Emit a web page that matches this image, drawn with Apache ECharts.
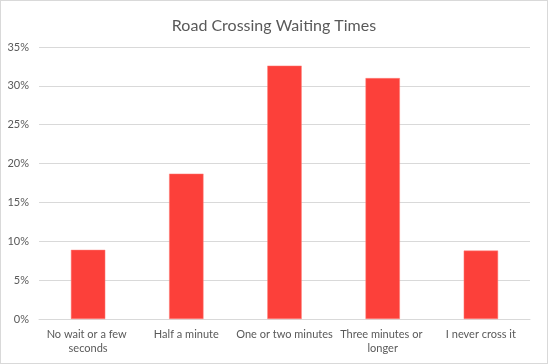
<!DOCTYPE html>
<html><head><meta charset="utf-8">
<script src="https://cdn.jsdelivr.net/npm/echarts@6/dist/echarts.min.js"></script>
<style>html,body{margin:0;padding:0;background:#fff}#c{width:548px;height:364px;box-sizing:border-box;border:1px solid #d9d9d9}</style>
</head><body><div id="c"></div>
<script>
const categories = ["No wait or a few seconds", "Half a minute", "One or two minutes", "Three minutes or longer", "I never cross it"];
const values = [8.9, 18.7, 32.6, 31.0, 8.8];
const yTicks = [0, 5, 10, 15, 20, 25, 30, 35];
const chart = echarts.init(document.getElementById('c'));
chart.setOption({
  animation: false,
  title: { text: 'Road Crossing Waiting Times', left: 'center', top: 12,
    textStyle: { fontFamily: 'Lato', fontSize: 16, fontWeight: 'normal', color: '#595959' } },
  grid: { left: 38, right: 17, top: 46, bottom: 44 },
  xAxis: { type: 'category', data: categories,
    axisLine: { lineStyle: { color: '#d9d9d9' } }, axisTick: { show: false },
    axisLabel: { color: '#595959', fontFamily: 'Lato', fontSize: 11, interval: 0, width: 102, overflow: 'break', lineHeight: 14, margin: 8 } },
  yAxis: { type: 'value', min: yTicks[0], max: yTicks[yTicks.length-1], interval: 5,
    axisLine: { show: false }, axisTick: { show: false },
    splitLine: { lineStyle: { color: '#d9d9d9' } },
    axisLabel: { color: '#595959', fontFamily: 'Lato', fontSize: 11, formatter: v => v + '%', margin: 10 } },
  series: [{ type: 'bar', data: values, barWidth: '35%',
    itemStyle: { color: '#fc403a', borderColor: '#ff7f78', borderWidth: 0.5 } }]
});
</script></body></html>
